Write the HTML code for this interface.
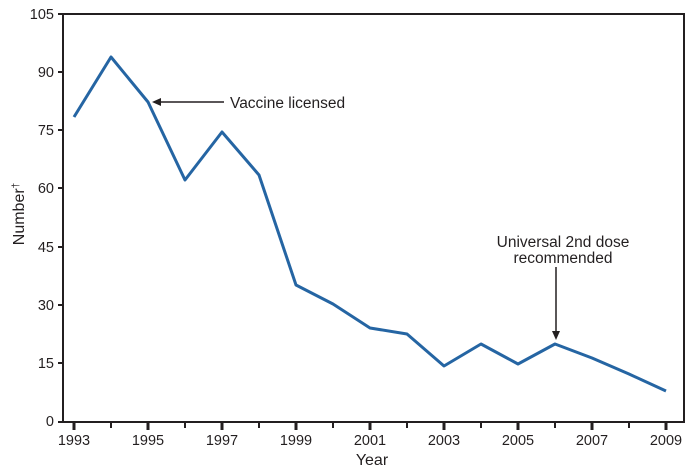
<!DOCTYPE html>
<html><head><meta charset="utf-8"><style>body{margin:0;background:#fff}svg{display:block}text{font-family:"Liberation Sans",sans-serif;fill:#231f20}</style></head><body>
<svg width="695" height="468" viewBox="0 0 695 468">
<rect x="63" y="14" width="621" height="408" fill="none" stroke="#231f20" stroke-width="2"/>
<g stroke="#231f20" stroke-width="2">
<line x1="58" y1="14" x2="63" y2="14"/><line x1="58" y1="72" x2="63" y2="72"/><line x1="58" y1="130" x2="63" y2="130"/><line x1="58" y1="188" x2="63" y2="188"/><line x1="58" y1="247" x2="63" y2="247"/><line x1="58" y1="305" x2="63" y2="305"/><line x1="58" y1="363" x2="63" y2="363"/><line x1="58" y1="422" x2="63" y2="422"/>
</g>
<g stroke="#231f20" stroke-width="2">
<line x1="74" y1="422" x2="74" y2="430" stroke-width="3"/><line x1="111" y1="422" x2="111" y2="428"/><line x1="148" y1="422" x2="148" y2="430" stroke-width="3"/><line x1="185" y1="422" x2="185" y2="428"/><line x1="222" y1="422" x2="222" y2="430" stroke-width="3"/><line x1="259" y1="422" x2="259" y2="428"/><line x1="296" y1="422" x2="296" y2="430" stroke-width="3"/><line x1="333" y1="422" x2="333" y2="428"/><line x1="370" y1="422" x2="370" y2="430" stroke-width="3"/><line x1="407" y1="422" x2="407" y2="428"/><line x1="444" y1="422" x2="444" y2="430" stroke-width="3"/><line x1="481" y1="422" x2="481" y2="428"/><line x1="518" y1="422" x2="518" y2="430" stroke-width="3"/><line x1="555" y1="422" x2="555" y2="428"/><line x1="592" y1="422" x2="592" y2="430" stroke-width="3"/><line x1="629" y1="422" x2="629" y2="428"/><line x1="666" y1="422" x2="666" y2="430" stroke-width="3"/>
</g>
<g font-size="14.5" text-anchor="end">
<text x="54" y="19">105</text><text x="54" y="77">90</text><text x="54" y="135">75</text><text x="54" y="193">60</text><text x="54" y="252">45</text><text x="54" y="310">30</text><text x="54" y="368">15</text><text x="54" y="426">0</text>
</g>
<g font-size="14.5" text-anchor="middle">
<text x="74" y="445">1993</text><text x="148" y="445">1995</text><text x="222" y="445">1997</text><text x="296" y="445">1999</text><text x="370" y="445">2001</text><text x="444" y="445">2003</text><text x="518" y="445">2005</text><text x="592" y="445">2007</text><text x="666" y="445">2009</text>
</g>
<text x="372" y="465" font-size="16" text-anchor="middle">Year</text>
<text transform="translate(24,214) rotate(-90)" font-size="16" text-anchor="middle">Number<tspan font-size="10" dy="-5">†</tspan></text>
<polyline fill="none" stroke="#2565a3" stroke-width="3" stroke-linejoin="round" points="74,117 111,57 148,102 185,180 222,132 259,175 296,285 333,304 370,328 407,334 444,366 481,344 518,364 555,344 592,358 629,374 666,391"/>
<line x1="224" y1="102" x2="158" y2="102" stroke="#231f20" stroke-width="1.5"/>
<polygon points="152,102 161,98 161,106" fill="#231f20"/>
<text x="230" y="108" font-size="15.5">Vaccine licensed</text>
<line x1="556" y1="267" x2="556" y2="334" stroke="#231f20" stroke-width="1.5"/>
<polygon points="556,340 552,331 560,331" fill="#231f20"/>
<text x="563" y="247" font-size="15.5" text-anchor="middle">Universal 2nd dose</text>
<text x="563" y="263" font-size="15.5" text-anchor="middle">recommended</text>
</svg>
</body></html>
